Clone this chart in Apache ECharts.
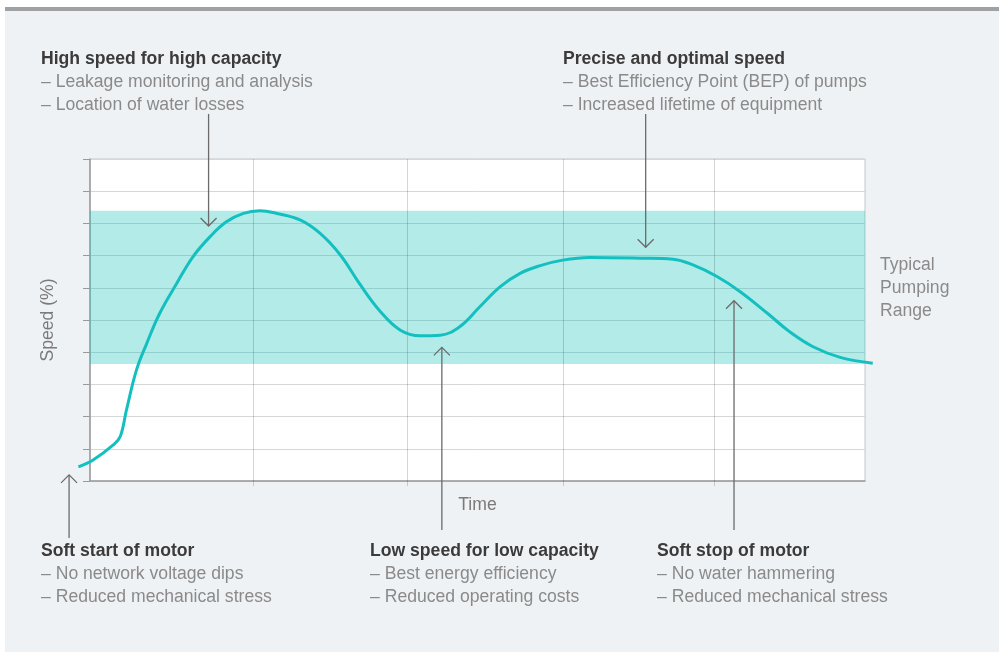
<!DOCTYPE html>
<html>
<head>
<meta charset="utf-8">
<script src="https://cdn.jsdelivr.net/npm/echarts@6/dist/echarts.min.js"></script>
<style>
  html, body { margin:0; padding:0; background:#ffffff; width:999px; height:654px; overflow:hidden; }
  #bar { position:absolute; left:5px; top:7px; width:994px; height:4px; background:#9fa1a3; }
  #panel { position:absolute; left:5px; top:11px; width:994px; height:641px; background:#eff2f5; }
  #chart { position:absolute; left:0; top:0; width:999px; height:654px; }
</style>
</head>
<body>
<div id="bar"></div>
<div id="panel"></div>
<div id="chart"></div>
<script>
// ---- data (time units 0..100, speed %) ----
const timeX  = [-1.5, 0.4, 3.0, 3.9, 4.7, 6.0, 7.3, 9.0, 11.2, 13.3, 15.5, 17.6, 19.8, 21.9, 24.1, 27.1, 29.7, 32.3, 34.8, 37.4, 40.0, 42.6, 45.2, 47.7, 50.3, 52.9, 55.5, 58.1, 61.0, 64.5, 71.0, 75.2, 77.8, 80.9, 83.9, 87.4, 90.3, 93.3, 96.8, 101.0];
const speedY = [4.4, 6.5, 11.2, 13.8, 22.0, 34.5, 42.6, 52.1, 61.4, 69.7, 75.9, 80.5, 83.1, 83.9, 83.1, 81.1, 76.9, 70.2, 61.2, 52.8, 46.9, 45.1, 45.3, 47.9, 54.1, 60.3, 64.5, 66.9, 68.6, 69.4, 69.2, 68.9, 67.1, 63.5, 58.8, 52.1, 46.3, 41.7, 38.4, 36.6];
const pumpingRange = [36.3, 83.9];
const timeGridX = [21.0, 40.9, 61.0, 80.6];
const yAxisLabel = 'Speed (%)';
const xAxisLabel = 'Time';

// annotation arrows in data units: x, tail y, tip y
const arrows = [
  { x: 15.3, from: 114.0, to: 79.2 },
  { x: 71.7, from: 114.0, to: 72.6 },
  { x: -2.7, from: -17.7, to: 1.9 },
  { x: 45.4, from: -15.2, to: 41.5 },
  { x: 83.1, from: -15.2, to: 56.0 }
];

// text blocks
const blocks = [
  { x: 41,  y: 59,  title: 'High speed for high capacity', lines: ['– Leakage monitoring and analysis', '– Location of water losses'] },
  { x: 563, y: 59,  title: 'Precise and optimal speed', lines: ['– Best Efficiency Point (BEP) of pumps', '– Increased lifetime of equipment'] },
  { x: 41,  y: 551, title: 'Soft start of motor', lines: ['– No network voltage dips', '– Reduced mechanical stress'] },
  { x: 370, y: 551, title: 'Low speed for low capacity', lines: ['– Best energy efficiency', '– Reduced operating costs'] },
  { x: 657, y: 551, title: 'Soft stop of motor', lines: ['– No water hammering', '– Reduced mechanical stress'] }
];
const rangeLabel = ['Typical', 'Pumping', 'Range'];

const FONT = '"Liberation Sans", Arial, Helvetica, sans-serif';
const FS = 17.6;
const chart = echarts.init(document.getElementById('chart'), null, { renderer: 'canvas' });

const curve = timeX.map((t, i) => [t, speedY[i]]);

chart.setOption({
  animation: false,
  backgroundColor: 'transparent',
  grid: [
    { left: 90, top: 159, right: 134, bottom: 173, show: true, backgroundColor: '#ffffff', borderColor: '#c4c6c8', borderWidth: 1 },
    // overlay grid with the same scale but a wider extent, for marks reaching past the plot frame
    { left: 59, top: 94.6, right: 103, bottom: 108.6, show: false }
  ],
  xAxis: [{
    gridIndex: 0, type: 'value', min: 0, max: 100,
    name: xAxisLabel, nameLocation: 'middle', nameGap: 15,
    nameTextStyle: { color: '#7a7a7a', fontSize: FS, fontFamily: FONT },
    axisLine: { show: true, lineStyle: { color: '#9a9a9a', width: 1.5 } },
    axisTick: { show: false }, axisLabel: { show: false }, splitLine: { show: false }
  }, {
    gridIndex: 1, type: 'value', min: -4, max: 104, show: false
  }],
  yAxis: [{
    gridIndex: 0, type: 'value', min: 0, max: 100, interval: 10,
    name: yAxisLabel, nameLocation: 'middle', nameGap: 33, nameRotate: 90,
    nameTextStyle: { color: '#7a7a7a', fontSize: FS, fontFamily: FONT },
    axisLine: { show: true, lineStyle: { color: '#9a9a9a', width: 1.5 } },
    axisTick: { show: true, inside: false, length: 7, lineStyle: { color: '#9a9a9a', width: 1 } },
    axisLabel: { show: false },
    splitLine: { show: true, lineStyle: { color: '#d6d7d8', width: 1 } }
  }, {
    gridIndex: 1, type: 'value', min: -20, max: 120, show: false
  }],
  series: [
    {
      type: 'line', xAxisIndex: 0, yAxisIndex: 0, data: [], silent: true,
      markArea: {
        silent: true,
        itemStyle: { color: 'rgba(0,190,180,0.30)' },
        data: [[{ yAxis: pumpingRange[0] }, { yAxis: pumpingRange[1] }]]
      }
    },
    {
      type: 'line', xAxisIndex: 1, yAxisIndex: 1, data: [], silent: true, z: 3,
      markLine: {
        silent: true, symbol: ['none', 'none'], label: { show: false },
        lineStyle: { color: 'rgba(0,0,0,0.16)', width: 1, type: 'solid' },
        data: timeGridX.map(v => [{ coord: [v, -1.6] }, { coord: [v, 100] }])
      }
    },
    {
      type: 'line', xAxisIndex: 1, yAxisIndex: 1, data: curve, smooth: 0.4, showSymbol: false, silent: true,
      lineStyle: { color: '#14bfc0', width: 3 }, z: 5
    }
  ]
});

// Graphic annotations
const els = [];
const ARROW_COLOR = '#6b6b6b';
arrows.forEach(a => {
  const p0 = chart.convertToPixel({ gridIndex: 0 }, [a.x, a.from]);
  const p1 = chart.convertToPixel({ gridIndex: 0 }, [a.x, a.to]);
  els.push({ type: 'line', shape: { x1: p0[0], y1: p0[1], x2: p1[0], y2: p1[1] }, style: { stroke: ARROW_COLOR, lineWidth: 1.3 }, silent: true, z: 10 });
  const dir = p1[1] > p0[1] ? -1 : 1;
  els.push({ type: 'polyline', shape: { points: [[p1[0] - 8, p1[1] + dir * 8], [p1[0], p1[1]], [p1[0] + 8, p1[1] + dir * 8]] }, style: { stroke: ARROW_COLOR, lineWidth: 1.3, fill: null }, silent: true, z: 10 });
});
blocks.forEach(b => {
  els.push({ type: 'text', x: b.x, y: b.y, silent: true, z: 10,
    style: { text: b.title, fill: '#3b3b3b', fontSize: FS, fontWeight: 'bold', fontFamily: FONT, verticalAlign: 'middle', align: 'left' } });
  b.lines.forEach((ln, i) => {
    els.push({ type: 'text', x: b.x, y: b.y + 23.3 * (i + 1), silent: true, z: 10,
      style: { text: ln, fill: '#8a8a8a', fontSize: FS, fontFamily: FONT, verticalAlign: 'middle', align: 'left' } });
  });
});
rangeLabel.forEach((ln, i) => {
  els.push({ type: 'text', x: 880, y: 265 + 23 * i, silent: true, z: 10,
    style: { text: ln, fill: '#8a8a8a', fontSize: FS, fontFamily: FONT, verticalAlign: 'middle', align: 'left' } });
});
chart.setOption({ graphic: { elements: els } });
</script>
</body>
</html>
